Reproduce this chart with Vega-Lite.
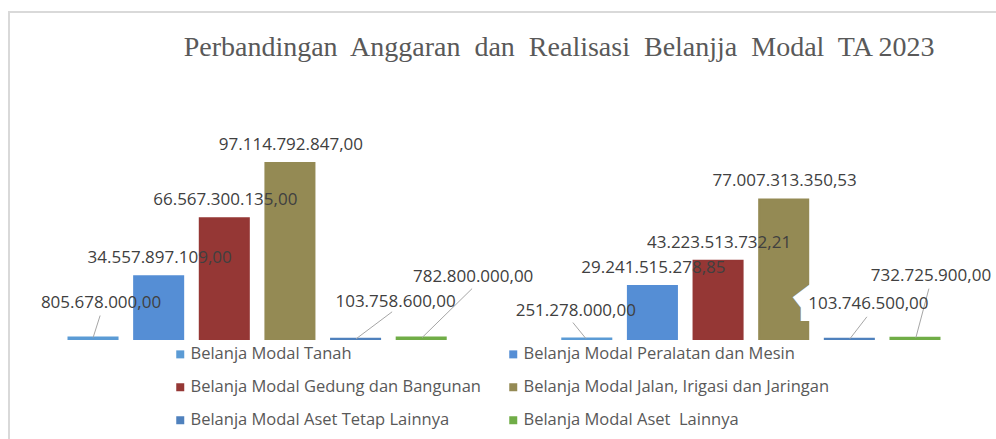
{
  "$schema": "https://vega.github.io/schema/vega-lite/v6.json",
  "autosize": {"type": "none"},
  "padding": {"left": 9, "top": 12, "right": 0, "bottom": 0},
  "width": 990,
  "height": 430,
  "background": "white",
  "title": {
    "text": "Perbandingan\u00a0 Anggaran\u00a0 dan\u00a0 Realisasi\u00a0 Belanjja\u00a0 Modal\u00a0 TA 2023",
    "font": "Liberation Serif",
    "fontSize": 28,
    "fontWeight": "normal",
    "color": "#595959",
    "anchor": "middle",
    "frame": "group",
    "baseline": "alphabetic",
    "offset": -72,
    "dx": 55
  },
  "data": {
    "values": [
      {"kelompok": "Anggaran", "kode": "T", "jenis": "Belanja Modal Tanah", "nilai": 805678000},
      {"kelompok": "Anggaran", "kode": "P", "jenis": "Belanja Modal Peralatan dan Mesin", "nilai": 34557897109},
      {"kelompok": "Anggaran", "kode": "G", "jenis": "Belanja Modal Gedung dan Bangunan", "nilai": 66567300135},
      {"kelompok": "Anggaran", "kode": "J", "jenis": "Belanja Modal Jalan, Irigasi dan Jaringan", "nilai": 97114792847},
      {"kelompok": "Anggaran", "kode": "AT", "jenis": "Belanja Modal Aset Tetap Lainnya", "nilai": 103758600},
      {"kelompok": "Anggaran", "kode": "AL", "jenis": "Belanja Modal Aset\u00a0 Lainnya", "nilai": 782800000},
      {"kelompok": "Realisasi", "kode": "T", "jenis": "Belanja Modal Tanah", "nilai": 251278000},
      {"kelompok": "Realisasi", "kode": "P", "jenis": "Belanja Modal Peralatan dan Mesin", "nilai": 29241515278.85},
      {"kelompok": "Realisasi", "kode": "G", "jenis": "Belanja Modal Gedung dan Bangunan", "nilai": 43223513732.21},
      {"kelompok": "Realisasi", "kode": "J", "jenis": "Belanja Modal Jalan, Irigasi dan Jaringan", "nilai": 77007313350.53},
      {"kelompok": "Realisasi", "kode": "AT", "jenis": "Belanja Modal Aset Tetap Lainnya", "nilai": 103746500},
      {"kelompok": "Realisasi", "kode": "AL", "jenis": "Belanja Modal Aset\u00a0 Lainnya", "nilai": 732725900}
    ]
  },
  "encoding": {
    "x": {"field": "kelompok", "type": "nominal", "axis": null, "scale": {"paddingInner": 0.2, "paddingOuter": 0.1025}},
    "y": {"field": "nilai", "type": "quantitative", "axis": null, "scale": {"domain": [-56830000000, 180420000000], "nice": false, "zero": false}}
  },
  "layer": [
    {
      "mark": {"type": "bar", "strokeWidth": 2},
      "encoding": {
        "xOffset": {"field": "jenis", "type": "nominal", "sort": null, "scale": {"paddingInner": 0.253, "paddingOuter": 0.1355}},
        "color": {
          "field": "jenis", "type": "nominal",
          "scale": {
            "domain": ["Belanja Modal Tanah", "Belanja Modal Peralatan dan Mesin", "Belanja Modal Gedung dan Bangunan", "Belanja Modal Jalan, Irigasi dan Jaringan", "Belanja Modal Aset Tetap Lainnya", "Belanja Modal Aset\u00a0 Lainnya"],
            "range": ["#5b9bd5", "#558ed5", "#953735", "#948a54", "#4f81bd", "#70ad47"]
          },
          "legend": {
            "orient": "none", "legendX": 163, "legendY": 334, "columns": 2, "direction": "horizontal", "title": null,
            "symbolType": "square", "symbolSize": 64, "symbolStrokeWidth": 0,
            "labelFont": "Open Sans", "labelFontSize": 16.5, "labelColor": "#595959", "labelLimit": 400,
            "labelOffset": 2, "rowPadding": 16, "columnPadding": 24, "padding": 0
          }
        },
        "stroke": {
          "field": "jenis", "type": "nominal", "legend": null,
          "scale": {
            "domain": ["Belanja Modal Tanah", "Belanja Modal Peralatan dan Mesin", "Belanja Modal Gedung dan Bangunan", "Belanja Modal Jalan, Irigasi dan Jaringan", "Belanja Modal Aset Tetap Lainnya", "Belanja Modal Aset\u00a0 Lainnya"],
            "range": ["#5b9bd5", "#558ed5", "#953735", "#948a54", "#4f81bd", "#70ad47"]
          }
        }
      }
    },
    {
      "transform": [{"filter": "datum.kelompok === 'Realisasi' && datum.kode === 'AT'"}],
      "mark": {"type": "text", "font": "Open Sans", "fontSize": 17, "baseline": "middle", "fill": "white", "stroke": "white", "strokeWidth": 24, "strokeJoin": "miter", "dx": 19, "dy": -35},
      "encoding": {"xOffset": {"field": "jenis", "type": "nominal", "sort": null}, "text": {"field": "nilai", "type": "quantitative", "format": ",.2f"}}
    },
    {
      "transform": [{"filter": "datum.kelompok === 'Anggaran' && datum.kode === 'T'"}],
      "mark": {"type": "rule", "color": "#a6a6a6", "strokeWidth": 1, "xOffset": -164, "x2Offset": -157, "y2Offset": -22},
      "encoding": {"x2": {"field": "kelompok"}, "y2": {"field": "nilai"}}
    },
    {
      "transform": [{"filter": "datum.kelompok === 'Anggaran' && datum.kode === 'AT'"}],
      "mark": {"type": "rule", "color": "#a6a6a6", "strokeWidth": 1, "xOffset": 99, "x2Offset": 135, "y2Offset": -27},
      "encoding": {"x2": {"field": "kelompok"}, "y2": {"field": "nilai"}}
    },
    {
      "transform": [{"filter": "datum.kelompok === 'Anggaran' && datum.kode === 'AL'"}],
      "mark": {"type": "rule", "color": "#a6a6a6", "strokeWidth": 1, "xOffset": 165, "x2Offset": 215, "y2Offset": -49},
      "encoding": {"x2": {"field": "kelompok"}, "y2": {"field": "nilai"}}
    },
    {
      "transform": [{"filter": "datum.kelompok === 'Realisasi' && datum.kode === 'T'"}],
      "mark": {"type": "rule", "color": "#a6a6a6", "strokeWidth": 1, "xOffset": -165, "x2Offset": -178, "y2Offset": -16},
      "encoding": {"x2": {"field": "kelompok"}, "y2": {"field": "nilai"}}
    },
    {
      "transform": [{"filter": "datum.kelompok === 'Realisasi' && datum.kode === 'AT'"}],
      "mark": {"type": "rule", "color": "#a6a6a6", "strokeWidth": 1, "xOffset": 99, "x2Offset": 116, "y2Offset": -22},
      "encoding": {"x2": {"field": "kelompok"}, "y2": {"field": "nilai"}}
    },
    {
      "transform": [{"filter": "datum.kelompok === 'Realisasi' && datum.kode === 'AL'"}],
      "mark": {"type": "rule", "color": "#a6a6a6", "strokeWidth": 1, "xOffset": 165, "x2Offset": 178, "y2Offset": -49},
      "encoding": {"x2": {"field": "kelompok"}, "y2": {"field": "nilai"}}
    },
    {
      "transform": [{"filter": "datum.nilai > 10000000000"}],
      "mark": {"type": "text", "font": "Open Sans", "fontSize": 17, "baseline": "middle", "color": "#404040", "dx": 1, "dy": -18},
      "encoding": {"xOffset": {"field": "jenis", "type": "nominal", "sort": null}, "text": {"field": "nilai", "type": "quantitative", "format": ",.2f"}}
    },
    {
      "transform": [{"filter": "datum.kelompok === 'Anggaran' && datum.kode === 'T'"}],
      "mark": {"type": "text", "font": "Open Sans", "fontSize": 17, "baseline": "middle", "color": "#404040", "dx": 8, "dy": -35},
      "encoding": {"xOffset": {"field": "jenis", "type": "nominal", "sort": null}, "text": {"field": "nilai", "type": "quantitative", "format": ",.2f"}}
    },
    {
      "transform": [{"filter": "datum.kelompok === 'Anggaran' && datum.kode === 'AT'"}],
      "mark": {"type": "text", "font": "Open Sans", "fontSize": 17, "baseline": "middle", "color": "#404040", "dx": 40, "dy": -37},
      "encoding": {"xOffset": {"field": "jenis", "type": "nominal", "sort": null}, "text": {"field": "nilai", "type": "quantitative", "format": ",.2f"}}
    },
    {
      "transform": [{"filter": "datum.kelompok === 'Anggaran' && datum.kode === 'AL'"}],
      "mark": {"type": "text", "font": "Open Sans", "fontSize": 17, "baseline": "middle", "color": "#404040", "dx": 52, "dy": -61},
      "encoding": {"xOffset": {"field": "jenis", "type": "nominal", "sort": null}, "text": {"field": "nilai", "type": "quantitative", "format": ",.2f"}}
    },
    {
      "transform": [{"filter": "datum.kelompok === 'Realisasi' && datum.kode === 'T'"}],
      "mark": {"type": "text", "font": "Open Sans", "fontSize": 17, "baseline": "middle", "color": "#404040", "dx": -11, "dy": -28},
      "encoding": {"xOffset": {"field": "jenis", "type": "nominal", "sort": null}, "text": {"field": "nilai", "type": "quantitative", "format": ",.2f"}}
    },
    {
      "transform": [{"filter": "datum.kelompok === 'Realisasi' && datum.kode === 'AT'"}],
      "mark": {"type": "text", "font": "Open Sans", "fontSize": 17, "baseline": "middle", "color": "#404040", "dx": 19, "dy": -35},
      "encoding": {"xOffset": {"field": "jenis", "type": "nominal", "sort": null}, "text": {"field": "nilai", "type": "quantitative", "format": ",.2f"}}
    },
    {
      "transform": [{"filter": "datum.kelompok === 'Realisasi' && datum.kode === 'AL'"}],
      "mark": {"type": "text", "font": "Open Sans", "fontSize": 17, "baseline": "middle", "color": "#404040", "dx": 16, "dy": -62},
      "encoding": {"xOffset": {"field": "jenis", "type": "nominal", "sort": null}, "text": {"field": "nilai", "type": "quantitative", "format": ",.2f"}}
    }
  ],
  "config": {
    "locale": {"number": {"decimal": ",", "thousands": ".", "grouping": [3], "currency": ["Rp", ""]}},
    "view": {"stroke": "#d9d9d9", "strokeWidth": 2}
  }
}
